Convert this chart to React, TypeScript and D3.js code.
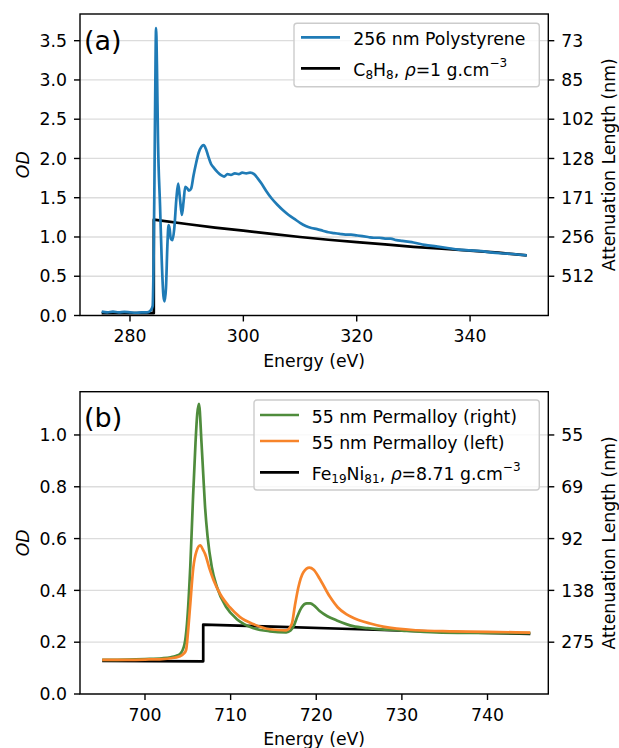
import React from "react";
import * as d3 from "d3";

const FONT = "DejaVu Sans, Verdana, sans-serif";

// ---------- Panel (a): polystyrene C K-edge ----------
const psEnergy = [
  275.0, 276.0, 277.0, 278.0, 279.0, 280.0, 281.0, 282.0, 283.0, 283.6, 284.0, 284.15, 284.3, 284.45,
  284.6, 284.75, 284.95, 285.3, 285.6, 285.9, 286.1, 286.35, 286.6, 286.8, 287.0, 287.2, 287.5, 287.8,
  288.2, 288.5, 288.8, 289.15, 289.45, 289.75, 290.1, 290.4, 290.8, 291.2, 291.6, 292.1, 292.6, 293.0,
  293.4, 293.8, 294.3, 294.8, 295.4, 296.0, 296.6, 297.2, 297.8, 298.5, 299.2, 299.8, 300.5, 301.2,
  301.9, 302.5, 303.2, 304.0, 305.0, 306.0, 307.0, 308.0, 309.0, 310.0, 311.0, 312.0, 313.0, 314.0,
  315.0, 316.0, 317.0, 318.0, 319.0, 320.0, 321.0, 322.0, 323.0, 324.0, 325.0, 326.0, 327.0, 328.0,
  329.0, 330.0, 332.0, 334.0, 336.0, 338.0, 340.0, 342.0, 344.0, 346.0, 348.0, 350.0,
];
const psOD = [
  0.05, 0.04, 0.05, 0.04, 0.045, 0.04, 0.035, 0.04, 0.04, 0.06, 0.12, 0.6, 1.6, 2.8,
  3.66, 3.2, 2.2, 1.4, 0.7, 0.25, 0.18, 0.35, 0.9, 1.15, 1.1, 0.98, 0.96, 1.1,
  1.5, 1.68, 1.5, 1.28, 1.45, 1.64, 1.62, 1.59, 1.62, 1.78, 1.92, 2.07, 2.15, 2.17,
  2.12, 2.03, 1.93, 1.88, 1.83, 1.79, 1.77, 1.8, 1.79, 1.81, 1.8, 1.82, 1.81, 1.82,
  1.8, 1.75, 1.68, 1.59, 1.49, 1.41, 1.34, 1.28, 1.23, 1.18, 1.14, 1.115, 1.1, 1.08,
  1.06, 1.05, 1.04, 1.03, 1.03, 1.02, 1.01, 1.0, 0.99, 0.99, 0.98, 0.98, 0.96, 0.95,
  0.94, 0.93, 0.9, 0.88, 0.86, 0.84, 0.83, 0.82, 0.8, 0.79, 0.78, 0.765,
];
const c8h8Energy = [275.0, 284.2, 284.2, 290.0, 295.0, 300.0, 305.0, 310.0, 315.0, 320.0, 325.0, 330.0, 335.0, 340.0, 345.0, 350.0];
const c8h8OD = [0.03, 0.03, 1.22, 1.165, 1.12, 1.08, 1.04, 1.0, 0.965, 0.935, 0.905, 0.875, 0.85, 0.827, 0.8, 0.765];

const xTicksA = [280, 300, 320, 340];
const yTicksA = [0, 0.5, 1.0, 1.5, 2.0, 2.5, 3.0, 3.5];
const yTickLabelsA = ["0.0", "0.5", "1.0", "1.5", "2.0", "2.5", "3.0", "3.5"];
const attenTicksA = [3.5, 3.0, 2.5, 2.0, 1.5, 1.0, 0.5];
const attenLabelsA = ["73", "85", "102", "128", "171", "256", "512"];

// ---------- Panel (b): permalloy Fe L-edge ----------
const pyRightEnergy = [
  695.0, 698.0, 700.0, 702.0, 703.0, 703.6, 704.1, 704.6, 704.9, 705.3, 705.6, 705.9, 706.1, 706.3,
  706.6, 706.8, 707.0, 707.3, 707.8, 708.4, 709.5, 710.7, 712.6, 714.6, 716.5, 717.0, 717.4, 717.8,
  718.3, 718.9, 719.3, 719.8, 720.4, 721.3, 722.4, 724.3, 726.0, 730.0, 734.0, 738.0, 745.0,
];
const pyRightOD = [
  0.132, 0.133, 0.135, 0.138, 0.142, 0.147, 0.155, 0.19, 0.27, 0.5, 0.75, 0.97, 1.08, 1.12,
  0.97, 0.85, 0.73, 0.61, 0.49, 0.413, 0.335, 0.29, 0.255, 0.242, 0.238, 0.245, 0.265, 0.3,
  0.335, 0.35, 0.35, 0.34, 0.32, 0.3, 0.284, 0.262, 0.254, 0.245, 0.238, 0.236, 0.235,
];
const pyLeftEnergy = [
  695.0, 698.0, 700.0, 702.0, 703.0, 704.0, 704.5, 704.8, 705.0, 705.26, 705.65, 706.0, 706.45, 706.8,
  707.0, 707.6, 708.0, 708.76, 709.9, 711.1, 712.65, 714.6, 716.5, 717.14, 717.5, 717.9, 718.5, 719.2,
  719.7, 720.4, 721.6, 722.5, 723.5, 725.0, 726.3, 727.8, 731.7, 735.6, 740.0, 745.0,
];
const pyLeftOD = [
  0.132, 0.132, 0.133, 0.135, 0.138, 0.145, 0.155, 0.17, 0.23, 0.335, 0.49, 0.55, 0.574, 0.555,
  0.542, 0.477, 0.44, 0.387, 0.335, 0.297, 0.27, 0.25, 0.246, 0.27, 0.34, 0.41, 0.47, 0.488,
  0.48, 0.445, 0.375, 0.335, 0.308, 0.285, 0.272, 0.26, 0.246, 0.242, 0.24, 0.237,
];
const feniEnergy = [695.0, 706.8, 706.8, 715.0, 725.0, 735.0, 745.0];
const feniOD = [0.128, 0.126, 0.268, 0.26, 0.25, 0.24, 0.232];

const xTicksB = [700, 710, 720, 730, 740];
const yTicksB = [0, 0.2, 0.4, 0.6, 0.8, 1.0];
const yTickLabelsB = ["0.0", "0.2", "0.4", "0.6", "0.8", "1.0"];
const attenTicksB = [1.0, 0.8, 0.6, 0.4, 0.2];
const attenLabelsB = ["55", "69", "92", "138", "275"];

// ---------- colours ----------
const BLUE = "#1f7bb6";
const GREEN = "#4f8c3c";
const ORANGE = "#f7842a";
const BLACK = "#000000";

const FS = 17.3;
const AX_L = 80;
const AX_R = 548.3;

type Series = { e: number[]; v: number[]; color: string; smooth: boolean };

function Panel(props: {
  top: number;
  bottom: number;
  xDomain: [number, number];
  yMax: number;
  xTicks: number[];
  yTicks: number[];
  yTickLabels: string[];
  rTicks: number[];
  rLabels: string[];
  series: Series[];
  tag: string;
  legend: { x: number; y: number; w: number; h: number; lineX: number; textX: number; rows: { y: number; color: string; label: React.ReactNode }[] };
}) {
  const { top, bottom, xDomain, yMax, xTicks, yTicks, yTickLabels, rTicks, rLabels, series, tag, legend } = props;
  const x = d3.scaleLinear().domain(xDomain).range([AX_L, AX_R]);
  const y = d3.scaleLinear().domain([0, yMax]).range([bottom, top]);
  const mkLine = (smooth: boolean) =>
    d3
      .line<[number, number]>()
      .x((d) => x(d[0]))
      .y((d) => y(d[1]))
      .curve(smooth ? d3.curveMonotoneX : d3.curveLinear);
  const midY = (top + bottom) / 2;
  const midX = (AX_L + AX_R) / 2;
  return (
    <g>
      {yTicks.map((t) => (
        <line key={"g" + t} x1={AX_L} x2={AX_R} y1={y(t)} y2={y(t)} stroke="#dcdcdc" strokeWidth={1.3} />
      ))}
      {series.map((s, i) => (
        <path
          key={i}
          d={mkLine(s.smooth)(s.e.map((e, k) => [e, s.v[k]] as [number, number])) || ""}
          fill="none"
          stroke={s.color}
          strokeWidth={2.7}
          strokeLinejoin="round"
          strokeLinecap="butt"
        />
      ))}
      <rect x={AX_L} y={top} width={AX_R - AX_L} height={bottom - top} fill="none" stroke="#000" strokeWidth={1.4} />
      {xTicks.map((t) => (
        <g key={"x" + t}>
          <line x1={x(t)} x2={x(t)} y1={bottom} y2={bottom + 6} stroke="#000" strokeWidth={1.4} />
          <text x={x(t)} y={bottom + 26.5} textAnchor="middle" fontSize={FS} fontFamily={FONT}>
            {t}
          </text>
        </g>
      ))}
      {yTicks.map((t, i) => (
        <g key={"y" + t}>
          <line x1={AX_L - 6} x2={AX_L} y1={y(t)} y2={y(t)} stroke="#000" strokeWidth={1.4} />
          <text x={AX_L - 13} y={y(t) + 6.2} textAnchor="end" fontSize={FS} fontFamily={FONT}>
            {yTickLabels[i]}
          </text>
        </g>
      ))}
      {rTicks.map((t, i) => (
        <g key={"r" + t}>
          <line x1={AX_R} x2={AX_R + 6} y1={y(t)} y2={y(t)} stroke="#000" strokeWidth={1.4} />
          <text x={AX_R + 13} y={y(t) + 6.2} textAnchor="start" fontSize={FS} fontFamily={FONT}>
            {rLabels[i]}
          </text>
        </g>
      ))}
      <text x={midX} y={bottom + 51} textAnchor="middle" fontSize={FS} fontFamily={FONT}>
        Energy (eV)
      </text>
      <text
        transform={`translate(28.5,${midY}) rotate(-90)`}
        textAnchor="middle"
        fontSize={FS}
        fontFamily={FONT}
        fontStyle="italic"
      >
        OD
      </text>
      <text transform={`translate(615,${midY}) rotate(-90)`} textAnchor="middle" fontSize={FS} fontFamily={FONT}>
        Attenuation Length (nm)
      </text>
      <text x={84} y={top + 35.5} fontSize={27} fontFamily={FONT}>
        {tag}
      </text>
      <rect
        x={legend.x}
        y={legend.y}
        width={legend.w}
        height={legend.h}
        rx={3}
        fill="#ffffff"
        fillOpacity={0.8}
        stroke="#cccccc"
        strokeWidth={1.4}
      />
      {legend.rows.map((r, i) => (
        <g key={"l" + i}>
          <line x1={legend.lineX} x2={legend.lineX + 39} y1={r.y} y2={r.y} stroke={r.color} strokeWidth={2.7} />
          <text x={legend.textX} y={r.y + 7.8} fontSize={FS} fontFamily={FONT}>
            {r.label}
          </text>
        </g>
      ))}
    </g>
  );
}

function formulaLabel(a: string, aSub: string, b: string, bSub: string, rest: string) {
  return (
    <>
      <tspan>{a}</tspan>
      <tspan dy={3} fontSize={12}>
        {aSub}
      </tspan>
      <tspan dy={-3}>{b}</tspan>
      <tspan dy={3} fontSize={12}>
        {bSub}
      </tspan>
      <tspan dy={-3}>, </tspan>
      <tspan fontStyle="italic">ρ</tspan>
      <tspan>{rest}</tspan>
      <tspan dy={-9.5} fontSize={12}>
        −3
      </tspan>
    </>
  );
}

export default function App() {
  const labelC8H8 = formulaLabel("C", "8", "H", "8", "=1 g.cm");
  const labelFeNi = formulaLabel("Fe", "19", "Ni", "81", "=8.71 g.cm");
  return (
    <svg width={619} height={748} viewBox="0 0 619 748" style={{ position: "absolute", left: 0, top: 0, background: "#ffffff" }}>
      <rect x={0} y={0} width={619} height={748} fill="#ffffff" />
      <Panel
        top={14}
        bottom={315.5}
        xDomain={[271.18, 353.8]}
        yMax={3.84}
        xTicks={xTicksA}
        yTicks={yTicksA}
        yTickLabels={yTickLabelsA}
        rTicks={attenTicksA}
        rLabels={attenLabelsA}
        series={[
          { e: c8h8Energy, v: c8h8OD, color: BLACK, smooth: false },
          { e: psEnergy, v: psOD, color: BLUE, smooth: true },
        ]}
        tag="(a)"
        legend={{
          x: 294,
          y: 23.3,
          w: 245.3,
          h: 63.4,
          lineX: 301,
          textX: 353.3,
          rows: [
            { y: 37.3, color: BLUE, label: "256 nm Polystyrene" },
            { y: 68.3, color: BLACK, label: labelC8H8 },
          ],
        }}
      />
      <Panel
        top={391.7}
        bottom={694}
        xDomain={[692.41, 747.1]}
        yMax={1.167}
        xTicks={xTicksB}
        yTicks={yTicksB}
        yTickLabels={yTickLabelsB}
        rTicks={attenTicksB}
        rLabels={attenLabelsB}
        series={[
          { e: feniEnergy, v: feniOD, color: BLACK, smooth: false },
          { e: pyRightEnergy, v: pyRightOD, color: GREEN, smooth: true },
          { e: pyLeftEnergy, v: pyLeftOD, color: ORANGE, smooth: true },
        ]}
        tag="(b)"
        legend={{
          x: 254,
          y: 400,
          w: 285.3,
          h: 90,
          lineX: 260,
          textX: 311.7,
          rows: [
            { y: 415, color: GREEN, label: "55 nm Permalloy (right)" },
            { y: 441, color: ORANGE, label: "55 nm Permalloy (left)" },
            { y: 472.3, color: BLACK, label: labelFeNi },
          ],
        }}
      />
    </svg>
  );
}
